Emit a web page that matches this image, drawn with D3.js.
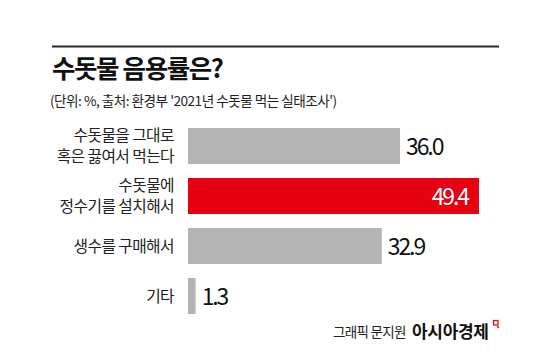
<!DOCTYPE html>
<html><head><meta charset="utf-8">
<script src="https://cdn.jsdelivr.net/npm/d3@7"></script>
<style>
html,body{margin:0;padding:0;background:#fff;}
svg{display:block;}
text{font-family:"Noto Sans CJK KR","Noto Sans",sans-serif;}
</style></head>
<body>
<svg id="chart" width="550" height="362"></svg>
<script>
const title = "수돗물 음용률은?";
const subtitle = "(단위: %, 출처: 환경부 '2021년 수돗물 먹는 실태조사')";
const categories = [["수돗물을 그대로","혹은 끓여서 먹는다"],["수돗물에","정수기를 설치해서"],["생수를 구매해서"],["기타"]];
const values = [36.0, 49.4, 32.9, 1.3];
const highlighted = [false, true, false, false];
const credit = "그래픽 문지원";
const brand = "아시아경제";

const svg = d3.select("#chart");
svg.append("rect").attr("width",550).attr("height",362).attr("fill","#fff");

svg.append("line").attr("x1",52).attr("x2",499).attr("y1",46.5).attr("y2",46.5)
  .attr("stroke","#2b2b2b").attr("stroke-width",2);

svg.append("text").attr("x",52).attr("y",78).attr("font-size",25.5).attr("font-weight",700)
  .attr("letter-spacing","-1.4px").attr("fill","#111").text(title);

svg.append("text").attr("x",50).attr("y",106).attr("font-size",13.6)
  .attr("letter-spacing","-0.5px").attr("fill","#222").text(subtitle);

const x = d3.scaleLinear().domain([0,50]).range([188,482.5]);
const idx = d3.range(values.length);
const y = d3.scaleBand().domain(idx).range([128,314]).paddingInner(0.28).paddingOuter(0);

const g = svg.append("g");
g.selectAll("rect.bar").data(idx).join("rect").attr("class","bar")
  .attr("x",x(0)).attr("y",i=>y(i)).attr("height",y.bandwidth())
  .attr("width",i=>x(values[i])-x(0))
  .attr("fill",i=>highlighted[i]?"#e50012":"#b4b4b4");

// category labels
idx.forEach(i=>{
  const lines = categories[i];
  const cy = y(i)+y.bandwidth()/2;
  const lh = 21.5;
  lines.forEach((t,k)=>{
    const off = (k-(lines.length-1)/2)*lh;
    g.append("text").attr("x",174).attr("y",cy+off).attr("dy","0.36em")
      .attr("text-anchor","end").attr("font-size",15.8).attr("letter-spacing","-0.6px")
      .attr("fill","#222").text(t);
  });
});

// value labels
g.selectAll("text.val").data(idx).join("text").attr("class","val")
  .attr("x",i=>highlighted[i]? x(values[i])-11 : x(values[i])+6)
  .attr("y",i=>y(i)+y.bandwidth()/2).attr("dy","0.37em")
  .attr("text-anchor",i=>highlighted[i]?"end":"start")
  .attr("font-size",23).attr("letter-spacing","-2.1px")
  .attr("fill",i=>highlighted[i]?"#fff":"#111")
  .text(i=>values[i].toFixed(1));

// footer
svg.append("text").attr("x",333).attr("y",337).attr("font-size",13.5)
  .attr("letter-spacing","-0.7px").attr("fill","#222").text(credit);
svg.append("text").attr("x",412).attr("y",338).attr("font-size",17).attr("font-weight",700)
  .attr("letter-spacing","-0.3px").attr("fill","#111").text(brand);
svg.append("rect").attr("x",493.5).attr("y",320.5).attr("width",4.5).attr("height",4.5)
  .attr("fill","none").attr("stroke","#e50012").attr("stroke-width",1.2);
svg.append("line").attr("x1",497).attr("x2",499).attr("y1",326).attr("y2",328)
  .attr("stroke","#e50012").attr("stroke-width",1.2);
</script>
</body></html>
